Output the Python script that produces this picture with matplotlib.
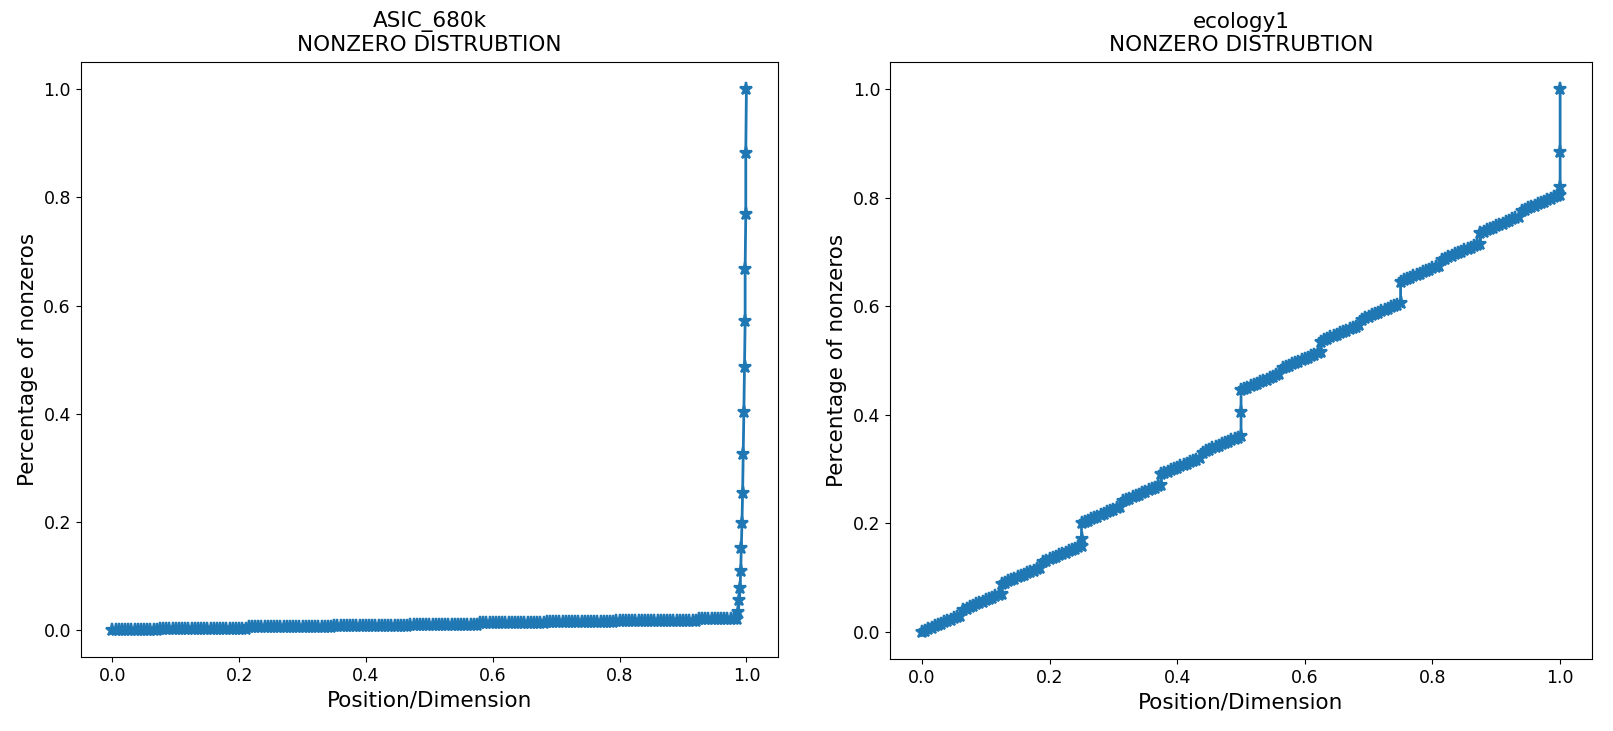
#
import numpy as np
import matplotlib
matplotlib.use( 'Agg' )
from matplotlib import pyplot as plt

# ASIC_680k: flat band of positions, then the spike near 1.0
asic_x = [
    0.000, 0.005, 0.010, 0.015, 0.020, 0.025, 0.030, 0.035, 0.040, 0.045, 0.050, 0.055, 0.060, 0.065, 0.070,
    0.075, 0.080, 0.085, 0.090, 0.095, 0.100, 0.105, 0.110, 0.115, 0.120, 0.125, 0.130, 0.135, 0.140, 0.145,
    0.150, 0.155, 0.160, 0.165, 0.170, 0.175, 0.180, 0.185, 0.190, 0.195, 0.200, 0.205, 0.210,
    0.215, 0.220, 0.225, 0.230, 0.235, 0.240, 0.245, 0.250, 0.255, 0.260, 0.265, 0.270, 0.275, 0.280, 0.285,
    0.290, 0.295, 0.300, 0.305, 0.310, 0.315, 0.320, 0.325, 0.330, 0.335, 0.340, 0.345,
    0.350, 0.355, 0.360, 0.365, 0.370, 0.375, 0.380, 0.385, 0.390, 0.395, 0.400, 0.405, 0.410, 0.415, 0.420,
    0.425, 0.430, 0.435, 0.440, 0.445, 0.450, 0.455, 0.460, 0.465,
    0.470, 0.475, 0.480, 0.485, 0.490, 0.495, 0.500, 0.505, 0.510, 0.515, 0.520, 0.525, 0.530, 0.535, 0.540,
    0.545, 0.550, 0.555, 0.560, 0.565, 0.570, 0.575,
    0.580, 0.585, 0.590, 0.595, 0.600, 0.605, 0.610, 0.615, 0.620, 0.625, 0.630, 0.635, 0.640, 0.645, 0.650,
    0.655, 0.660, 0.665, 0.670, 0.675, 0.680,
    0.685, 0.690, 0.695, 0.700, 0.705, 0.710, 0.715, 0.720, 0.725, 0.730, 0.735, 0.740, 0.745, 0.750, 0.755,
    0.760, 0.765, 0.770, 0.775, 0.780, 0.785, 0.790,
    0.795, 0.800, 0.805, 0.810, 0.815, 0.820, 0.825, 0.830, 0.835, 0.840, 0.845, 0.850, 0.855, 0.860, 0.865,
    0.870, 0.875, 0.880, 0.885, 0.890, 0.895, 0.900, 0.905, 0.910, 0.915, 0.920,
    0.925, 0.930, 0.935, 0.940, 0.945, 0.950, 0.955, 0.960, 0.965, 0.970, 0.975, 0.980, 0.985,
    0.987, 0.989, 0.990, 0.991, 0.992, 0.993, 0.994, 0.995, 0.996, 0.997, 0.998, 0.998, 0.999, 0.999, 1.000 ]
asic_y = [
    0.0000, 0.0000, 0.0000, 0.0000, 0.0000, 0.0000, 0.0000, 0.0000, 0.0000, 0.0000, 0.0000, 0.0000, 0.0000, 0.0000, 0.0000,
    0.0025, 0.0025, 0.0025, 0.0025, 0.0025, 0.0025, 0.0025, 0.0025, 0.0025, 0.0025, 0.0025, 0.0025, 0.0025, 0.0025, 0.0025,
    0.0025, 0.0025, 0.0025, 0.0025, 0.0025, 0.0025, 0.0025, 0.0025, 0.0025, 0.0025, 0.0025, 0.0025, 0.0025,
    0.0050, 0.0050, 0.0050, 0.0050, 0.0050, 0.0050, 0.0050, 0.0050, 0.0050, 0.0050, 0.0050, 0.0050, 0.0050, 0.0050, 0.0050,
    0.0050, 0.0050, 0.0050, 0.0050, 0.0050, 0.0050, 0.0050, 0.0050, 0.0050, 0.0050, 0.0050, 0.0050,
    0.0075, 0.0075, 0.0075, 0.0075, 0.0075, 0.0075, 0.0075, 0.0075, 0.0075, 0.0075, 0.0075, 0.0075, 0.0075, 0.0075, 0.0075,
    0.0075, 0.0075, 0.0075, 0.0075, 0.0075, 0.0075, 0.0075, 0.0075, 0.0075,
    0.0100, 0.0100, 0.0100, 0.0100, 0.0100, 0.0100, 0.0100, 0.0100, 0.0100, 0.0100, 0.0100, 0.0100, 0.0100, 0.0100, 0.0100,
    0.0100, 0.0100, 0.0100, 0.0100, 0.0100, 0.0100, 0.0100,
    0.0125, 0.0125, 0.0125, 0.0125, 0.0125, 0.0125, 0.0125, 0.0125, 0.0125, 0.0125, 0.0125, 0.0125, 0.0125, 0.0125, 0.0125,
    0.0125, 0.0125, 0.0125, 0.0125, 0.0125, 0.0125,
    0.0150, 0.0150, 0.0150, 0.0150, 0.0150, 0.0150, 0.0150, 0.0150, 0.0150, 0.0150, 0.0150, 0.0150, 0.0150, 0.0150, 0.0150,
    0.0150, 0.0150, 0.0150, 0.0150, 0.0150, 0.0150, 0.0150,
    0.0175, 0.0175, 0.0175, 0.0175, 0.0175, 0.0175, 0.0175, 0.0175, 0.0175, 0.0175, 0.0175, 0.0175, 0.0175, 0.0175, 0.0175,
    0.0175, 0.0175, 0.0175, 0.0175, 0.0175, 0.0175, 0.0175, 0.0175, 0.0175, 0.0175, 0.0175,
    0.0200, 0.0200, 0.0200, 0.0200, 0.0200, 0.0200, 0.0200, 0.0200, 0.0200, 0.0200, 0.0200, 0.0200, 0.0200,
    0.034, 0.055, 0.077, 0.110, 0.151, 0.198, 0.254, 0.326, 0.404, 0.487, 0.572, 0.667, 0.769, 0.883, 1.000 ]

# ecology1: eight stair segments, one per eighth of the dimension
eco_x = [
    0.000, 0.005, 0.010, 0.015, 0.020, 0.025, 0.030, 0.035, 0.040, 0.045, 0.050, 0.055, 0.060,
    0.065, 0.070, 0.075, 0.080, 0.085, 0.090, 0.095, 0.100, 0.105, 0.110, 0.115, 0.120, 0.125,
    0.125, 0.130, 0.135, 0.140, 0.145, 0.150, 0.155, 0.160, 0.165, 0.170, 0.175, 0.180, 0.185,
    0.190, 0.195, 0.200, 0.205, 0.210, 0.215, 0.220, 0.225, 0.230, 0.235, 0.240, 0.245, 0.250,
    0.250,
    0.250, 0.255, 0.260, 0.265, 0.270, 0.275, 0.280, 0.285, 0.290, 0.295, 0.300, 0.305, 0.310,
    0.315, 0.320, 0.325, 0.330, 0.335, 0.340, 0.345, 0.350, 0.355, 0.360, 0.365, 0.370, 0.375,
    0.375, 0.380, 0.385, 0.390, 0.395, 0.400, 0.405, 0.410, 0.415, 0.420, 0.425, 0.430, 0.435,
    0.440, 0.445, 0.450, 0.455, 0.460, 0.465, 0.470, 0.475, 0.480, 0.485, 0.490, 0.495, 0.500,
    0.500,
    0.500, 0.505, 0.510, 0.515, 0.520, 0.525, 0.530, 0.535, 0.540, 0.545, 0.550, 0.555, 0.560,
    0.565, 0.570, 0.575, 0.580, 0.585, 0.590, 0.595, 0.600, 0.605, 0.610, 0.615, 0.620, 0.625,
    0.625, 0.630, 0.635, 0.640, 0.645, 0.650, 0.655, 0.660, 0.665, 0.670, 0.675, 0.680, 0.685,
    0.690, 0.695, 0.700, 0.705, 0.710, 0.715, 0.720, 0.725, 0.730, 0.735, 0.740, 0.745, 0.750,
    0.750, 0.755, 0.760, 0.765, 0.770, 0.775, 0.780, 0.785, 0.790, 0.795, 0.800, 0.805, 0.810,
    0.815, 0.820, 0.825, 0.830, 0.835, 0.840, 0.845, 0.850, 0.855, 0.860, 0.865, 0.870, 0.875,
    0.875, 0.880, 0.885, 0.890, 0.895, 0.900, 0.905, 0.910, 0.915, 0.920, 0.925, 0.930, 0.935,
    0.940, 0.945, 0.950, 0.955, 0.960, 0.965, 0.970, 0.975, 0.980, 0.985, 0.990, 0.995, 1.000,
    1.000, 1.000, 1.000 ]
eco_y = [
    0.0000, 0.0025, 0.0050, 0.0075, 0.0100, 0.0125, 0.0150, 0.0175, 0.0200, 0.0225, 0.0250, 0.0275, 0.0300,
    0.0405, 0.0430, 0.0455, 0.0480, 0.0505, 0.0530, 0.0555, 0.0580, 0.0605, 0.0630, 0.0655, 0.0680, 0.0705,
    0.0880, 0.0905, 0.0930, 0.0955, 0.0980, 0.1005, 0.1030, 0.1055, 0.1080, 0.1105, 0.1130, 0.1155, 0.1180,
    0.1285, 0.1310, 0.1335, 0.1360, 0.1385, 0.1410, 0.1435, 0.1460, 0.1485, 0.1510, 0.1535, 0.1560, 0.1585,
    0.1720,
    0.2000, 0.2025, 0.2050, 0.2075, 0.2100, 0.2125, 0.2150, 0.2175, 0.2200, 0.2225, 0.2250, 0.2275, 0.2300,
    0.2405, 0.2430, 0.2455, 0.2480, 0.2505, 0.2530, 0.2555, 0.2580, 0.2605, 0.2630, 0.2655, 0.2680, 0.2705,
    0.2900, 0.2925, 0.2950, 0.2975, 0.3000, 0.3025, 0.3050, 0.3075, 0.3100, 0.3125, 0.3150, 0.3175, 0.3200,
    0.3305, 0.3330, 0.3355, 0.3380, 0.3405, 0.3430, 0.3455, 0.3480, 0.3505, 0.3530, 0.3555, 0.3580, 0.3605,
    0.4050,
    0.4450, 0.4475, 0.4500, 0.4525, 0.4550, 0.4575, 0.4600, 0.4625, 0.4650, 0.4675, 0.4700, 0.4725, 0.4750,
    0.4855, 0.4880, 0.4905, 0.4930, 0.4955, 0.4980, 0.5005, 0.5030, 0.5055, 0.5080, 0.5105, 0.5130, 0.5155,
    0.5350, 0.5375, 0.5400, 0.5425, 0.5450, 0.5475, 0.5500, 0.5525, 0.5550, 0.5575, 0.5600, 0.5625, 0.5650,
    0.5755, 0.5780, 0.5805, 0.5830, 0.5855, 0.5880, 0.5905, 0.5930, 0.5955, 0.5980, 0.6005, 0.6030, 0.6055,
    0.6450, 0.6475, 0.6500, 0.6525, 0.6550, 0.6575, 0.6600, 0.6625, 0.6650, 0.6675, 0.6700, 0.6725, 0.6750,
    0.6855, 0.6880, 0.6905, 0.6930, 0.6955, 0.6980, 0.7005, 0.7030, 0.7055, 0.7080, 0.7105, 0.7130, 0.7155,
    0.7350, 0.7375, 0.7400, 0.7425, 0.7450, 0.7475, 0.7500, 0.7525, 0.7550, 0.7575, 0.7600, 0.7625, 0.7650,
    0.7755, 0.7780, 0.7805, 0.7830, 0.7855, 0.7880, 0.7905, 0.7930, 0.7955, 0.7980, 0.8005, 0.8030, 0.8055,
    0.8200, 0.8850, 1.0000 ]

names = [ 'ASIC_680k', 'ecology1' ]
series = [ ( asic_x, asic_y ), ( eco_x, eco_y ) ]

#
fig = plt.figure( figsize=( 16.13, 7.31 ), dpi=100 )
axPos = [ [ 0.0500, 0.1010, 0.4324, 0.8138 ],
          [ 0.5518, 0.0985, 0.4352, 0.8166 ] ]

for name, ( x, y ), pos in zip( names, series, axPos ):
    ax = fig.add_axes( pos )
    ax.plot( x, y, marker='*', color='#1f77b4', lw=2, markersize=9.5, mew=1.6 )
    ax.set_title( name + '\nNONZERO DISTRUBTION', pad=8, fontsize=15.5 )
    ax.set_xlabel( 'Position/Dimension', fontsize=15.5 )
    ax.set_ylabel( 'Percentage of nonzeros', fontsize=15.5 )
    ax.set_xticks( [ 0.0, 0.2, 0.4, 0.6, 0.8, 1.0 ] )
    ax.set_yticks( [ 0.0, 0.2, 0.4, 0.6, 0.8, 1.0 ] )
    ax.tick_params( labelsize=12.5 )

fig.savefig( 'out.png', dpi=100 )
